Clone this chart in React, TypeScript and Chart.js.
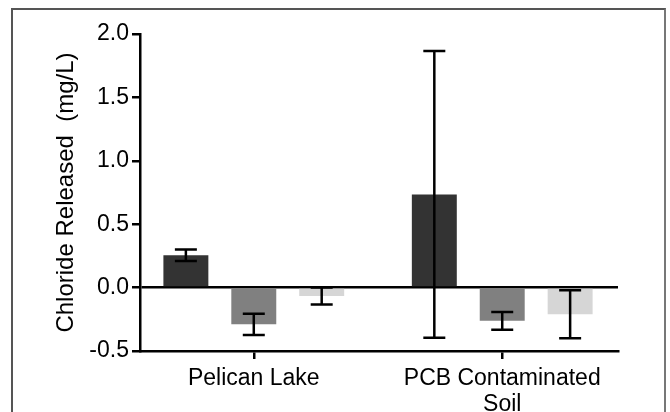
import React, { useEffect, useRef } from "react";
import { Chart, registerables } from "chart.js";

Chart.register(...registerables);

const categories: (string | string[])[] = ["Pelican Lake", ["PCB Contaminated", "Soil"]];
const seriesNames = ["Series A", "Series B", "Series C"];
const seriesColors = ["#333333", "#808080", "#d6d6d6"];
const seriesA = [0.255, 0.735];
const seriesB = [-0.29, -0.262];
const seriesC = [-0.066, -0.21];
const errorA = [0.045, 1.13];
const errorB = [0.084, 0.07];
const errorC = [0.067, 0.19];
const yTicks = [-0.5, 0, 0.5, 1.0, 1.5, 2.0];
const yTitle = "Chloride Released  (mg/L)";

const seriesValues = [seriesA, seriesB, seriesC];
const seriesErrors = [errorA, errorB, errorC];

const FONT = "'Liberation Sans', Arial, Helvetica, sans-serif";

const errorBarPlugin = {
  id: "errorBars",
  afterDatasetsDraw(chart: any) {
    const ctx = chart.ctx;
    const yScale = chart.scales.y;
    ctx.save();
    ctx.strokeStyle = "#000000";
    ctx.lineWidth = 2.5;
    ctx.lineCap = "butt";
    chart.data.datasets.forEach((ds: any, di: number) => {
      const meta = chart.getDatasetMeta(di);
      const errs = seriesErrors[di];
      meta.data.forEach((el: any, i: number) => {
        const v = ds.data[i].y;
        const e = errs[i];
        const x = el.x;
        const yTop = yScale.getPixelForValue(v + e);
        const yBot = yScale.getPixelForValue(v - e);
        const half = 11;
        ctx.beginPath();
        ctx.moveTo(x, yTop);
        ctx.lineTo(x, yBot);
        ctx.moveTo(x - half, yTop);
        ctx.lineTo(x + half, yTop);
        ctx.moveTo(x - half, yBot);
        ctx.lineTo(x + half, yBot);
        ctx.stroke();
      });
    });
    ctx.restore();
  },
};

export default function App() {
  const canvasRef = useRef<HTMLCanvasElement | null>(null);

  useEffect(() => {
    const canvas = canvasRef.current;
    if (!canvas) return;
    const chart = new Chart(canvas, {
      type: "bar",
      data: {
        datasets: seriesValues.map((vals, si) => ({
          label: seriesNames[si],
          data: vals.map((v, i) => ({ x: i, y: v })),
          backgroundColor: seriesColors[si],
          borderWidth: 0,
          categoryPercentage: 0.82,
          barPercentage: 0.662,
        })),
      },
      options: {
        animation: false,
        responsive: false,
        events: [],
        layout: { padding: { left: 0, top: 34, right: 52, bottom: 0 } },
        plugins: {
          legend: { display: false },
          tooltip: { enabled: false },
        },
        scales: {
          x: {
            type: "linear",
            offset: false,
            min: -0.458,
            max: 1.466,
            afterBuildTicks: (scale: any) => {
              scale.ticks = categories.map((_, i) => ({ value: i }));
            },
            afterFit: (scale: any) => {
              scale.height = 61;
            },
            ticks: {
              autoSkip: false,
              maxRotation: 0,
              minRotation: 0,
              padding: 6,
              color: "#000000",
              font: { family: FONT, size: 23, lineHeight: 1.15 },
              callback: (value: any) => {
                const idx = Math.round(Number(value));
                return categories[idx] ?? "";
              },
            },
            grid: {
              offset: false,
              drawOnChartArea: false,
              drawTicks: true,
              tickLength: 8,
              tickColor: "#000000",
              tickWidth: 2.5,
              lineWidth: 2.5,
              color: "#000000",
            },
            border: { display: true, color: "#000000", width: 2.5 },
          },
          y: {
            min: -0.5,
            max: 2.0,
            afterBuildTicks: (scale: any) => {
              scale.ticks = yTicks.map((v) => ({ value: v }));
            },
            afterFit: (scale: any) => {
              scale.width = 140;
            },
            ticks: {
              padding: 3,
              color: "#000000",
              font: { family: FONT, size: 23 },
              callback: (value: any) => Number(value).toFixed(1),
            },
            grid: {
              drawOnChartArea: true,
              drawTicks: true,
              tickLength: 8,
              tickColor: "#000000",
              tickWidth: 2.5,
              lineWidth: 2.5,
              color: (c: any) => (c.tick && c.tick.value === 0 ? "#000000" : "rgba(0,0,0,0)"),
            },
            border: { display: true, color: "#000000", width: 2.5 },
            title: {
              display: true,
              text: yTitle,
              color: "#000000",
              font: { family: FONT, size: 24 },
              padding: { top: 52, bottom: 0 },
            },
          },
        },
      },
      plugins: [errorBarPlugin],
    } as any);
    return () => chart.destroy();
  }, []);

  return (
    <div style={{ position: "fixed", left: 0, top: 0, width: 670, height: 412, background: "#ffffff", overflow: "hidden" }}>
      <div
        style={{
          position: "absolute",
          left: 11,
          top: 8,
          width: 655,
          height: 420,
          borderLeft: "2px solid #555555",
          borderTop: "2px solid #555555",
          borderRight: "2px solid #777777",
          boxSizing: "border-box",
        }}
      />
      <canvas ref={canvasRef} width={670} height={412} style={{ position: "absolute", left: 0, top: 0 }} />
    </div>
  );
}
